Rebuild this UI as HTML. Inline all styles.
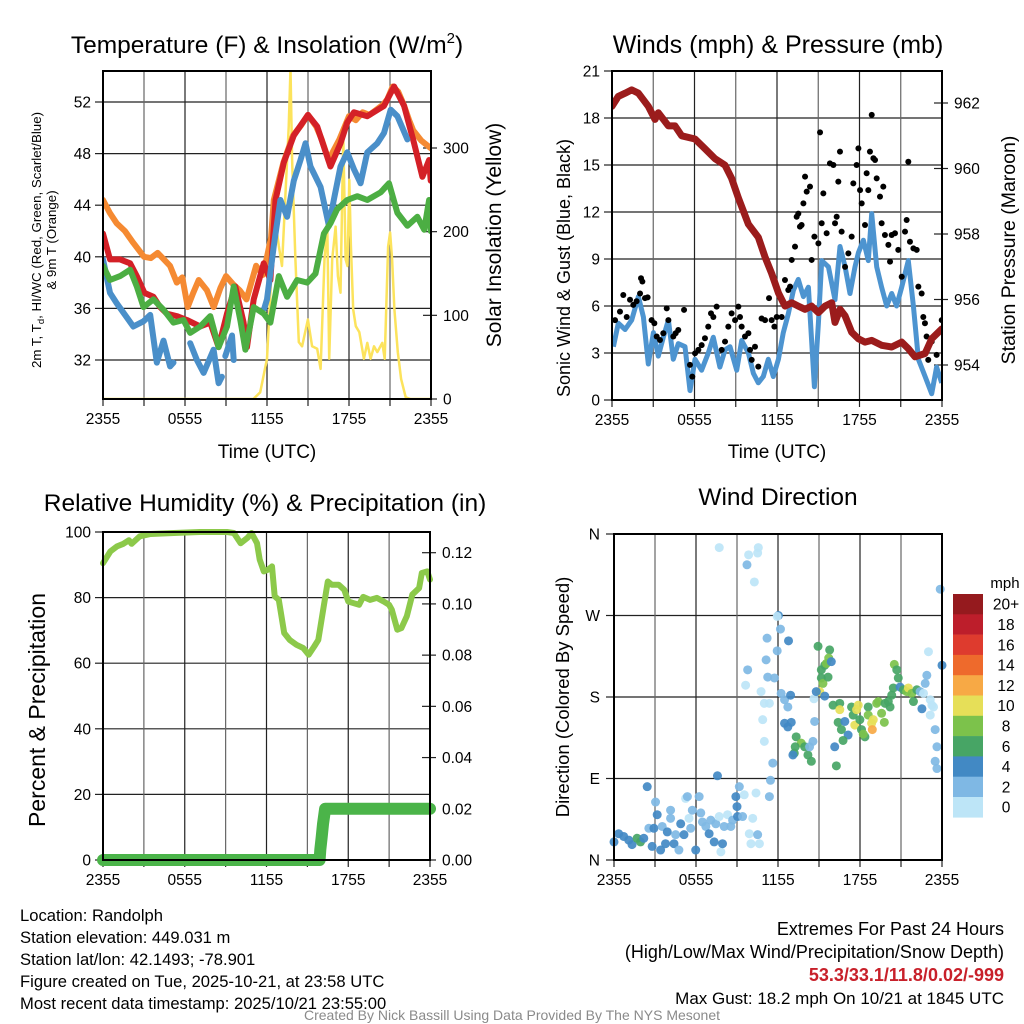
<!DOCTYPE html>
<html><head><meta charset="utf-8">
<style>
html,body{margin:0;padding:0;background:#fff;}
svg{display:block;font-family:"Liberation Sans",Arial,sans-serif;}
</style></head>
<body>
<svg id="chart" width="1024" height="1024" viewBox="0 0 1024 1024" xmlns="http://www.w3.org/2000/svg">
<rect width="1024" height="1024" fill="#fff"/>
<g id="g1"></g>
<g id="g2"></g>
<g id="g3"></g>
<g id="g4"></g>

<text x="267" y="53" font-size="24.5" text-anchor="middle">Temperature (F) &amp; Insolation (W/m<tspan font-size="15" dy="-10">2</tspan><tspan dy="10">)</tspan></text>
<text x="778" y="53" font-size="25" text-anchor="middle">Winds (mph) &amp; Pressure (mb)</text>
<text x="265" y="511" font-size="24.5" text-anchor="middle">Relative Humidity (%) &amp; Precipitation (in)</text>
<text x="778" y="505" font-size="24.5" text-anchor="middle">Wind Direction</text>

<text x="267" y="458" font-size="19" text-anchor="middle">Time (UTC)</text>
<text x="777" y="458" font-size="19" text-anchor="middle">Time (UTC)</text>

<g transform="translate(41,240) rotate(-90)">
<text x="0" y="0" font-size="13.3" text-anchor="middle">2m T, T<tspan font-size="9.5" dy="3">d</tspan><tspan dy="-3">, HI/WC (Red, Green, Scarlet/Blue)</tspan></text>
<text x="0" y="15" font-size="13.3" text-anchor="middle">&amp; 9m T (Orange)</text>
</g>
<text transform="translate(501,235) rotate(-90)" font-size="21" text-anchor="middle">Solar Insolation (Yellow)</text>
<text transform="translate(570,268) rotate(-90)" font-size="18" text-anchor="middle">Sonic Wind &amp; Gust (Blue, Black)</text>
<text transform="translate(1015,250) rotate(-90)" font-size="19.5" text-anchor="middle">Station Pressure (Maroon)</text>
<text transform="translate(45,710) rotate(-90)" font-size="23" text-anchor="middle">Percent &amp; Precipitation</text>
<text transform="translate(569,697) rotate(-90)" font-size="18.5" text-anchor="middle">Direction (Colored By Speed)</text>

<g font-size="16.6">
<text x="20" y="921">Location: Randolph</text>
<text x="20" y="943">Station elevation: 449.031 m</text>
<text x="20" y="965">Station lat/lon: 42.1493; -78.901</text>
<text x="20" y="987">Figure created on Tue, 2025-10-21, at 23:58 UTC</text>
<text x="20" y="1009">Most recent data timestamp: 2025/10/21 23:55:00</text>
</g>
<g text-anchor="end">
<text x="1004" y="935" font-size="18">Extremes For Past 24 Hours</text>
<text x="1004" y="958" font-size="18">(High/Low/Max Wind/Precipitation/Snow Depth)</text>
<text x="1004" y="981" font-size="18" fill="#c8202a" font-weight="bold">53.3/33.1/11.8/0.02/-999</text>
<text x="1004" y="1004" font-size="17">Max Gust: 18.2 mph On 10/21 at 1845 UTC</text>
</g>
<text x="512" y="1020" font-size="14" fill="#8a8a8a" text-anchor="middle">Created By Nick Bassill Using Data Provided By The NYS Mesonet</text>
</svg>

<script>
// ---------- DATA ----------
const xTickLabels = ["2355","0555","1155","1755","2355"];
const tempTicks = [32,36,40,44,48,52];
const solarTicks = [0,100,200,300];
const windTicks = [0,3,6,9,12,15,18,21];
const presTicks = [954,956,958,960,962];
const rhTicks = [0,20,40,60,80,100];
const precipTicks = [0,0.02,0.04,0.06,0.08,0.10,0.12];
const dirTickLabels = ["N","E","S","W","N"];
const speedBins = ["0","2","4","6","8","10","12","14","16","18","20+"];

const orangeHours = [0,0.5,1,1.6,2.2,3,3.5,4,4.9,5.4,5.8,6.2,6.6,7,7.6,8.1,8.6,9,9.5,10,10.5,11.2,11.7,12,12.3,12.5,13.2,13.9,14.5,15,15.6,16,16.5,16.9,17.3,18,18.5,19,19.5,20,20.5,20.8,21.2,21.6,22,22.4,22.7,23.3,24];
const orangeTemp = [44.4,43.4,42.6,42.0,41.1,40.0,39.9,40.3,39.3,38.0,38.4,36.1,37.2,38.2,37.4,36.1,37.6,38.5,37.9,37.4,36.7,39.3,38.6,40.0,41.5,44.4,47.3,49.4,50.2,51.0,50.1,49.1,47.5,48.3,49.1,50.9,50.6,51.2,51.0,51.4,51.8,52.2,53.2,52.8,51.8,50.6,49.8,49.0,48.4];
const redHours = [0,0.51,1.25,1.98,2.47,3.03,3.69,4.18,4.67,5.4,6.14,7.11,7.85,8.46,9.07,9.68,10.29,10.54,11.03,11.76,12.25,12.62,13.23,13.96,14.99,15.67,16.65,17.38,17.87,18.36,19.34,20.56,21.3,22.03,22.76,23.37,23.86,23.98];
const redTemp = [41.8,39.8,39.8,39.5,38.5,37.2,36.9,36.1,35.6,35.4,35.1,34.6,34.9,33.0,35.6,37.7,34.9,33.0,36.7,39.5,38.2,44.4,47.3,49.4,51.0,50.1,47.0,48.8,50.4,51.2,50.9,51.7,53.2,51.7,48.8,46.2,47.5,45.9];
const blueHours = [0,0.51,1.0,1.74,2.22,2.96,3.45,3.94,4.43,4.91,5.16,5.3,6.38,6.87,7.36,8.09,8.46,8.7,8.8,8.95,9.44,9.56,9.7,11.8,12.0,12.49,12.98,13.47,13.96,14.45,14.82,15.18,15.92,16.53,16.89,17.38,17.87,18.36,18.85,19.34,20.07,20.56,21.05,21.54,22.27];
const blueTemp = [39.8,37.2,36.4,35.3,34.6,35.0,35.5,31.8,33.5,31.5,31.8,null,33.3,32.0,31.0,32.8,30.2,30.7,null,32.3,33.9,32.0,null,36.0,36.7,40.8,44.4,43.1,45.9,47.5,48.8,47.0,45.4,42.4,44.4,47.0,48.1,46.8,45.7,48.1,48.8,49.6,51.4,50.9,49.1];
const greenHours = [0,0.51,1.25,1.98,2.47,2.96,3.69,4.43,5.16,5.89,6.38,7.11,7.85,8.46,9.07,9.56,10.05,10.42,11.03,11.76,12.25,12.86,13.47,14.2,14.94,15.55,16.16,16.65,17.14,17.87,18.61,19.34,20.32,20.93,21.54,22.27,23.0,23.5,23.86,23.98];
const greenTemp = [39.3,38.2,38.5,39.0,37.7,36.1,36.7,35.9,34.9,35.1,34.1,34.6,35.4,33.0,34.6,37.7,35.1,32.8,36.1,35.6,34.9,38.5,36.9,38.2,38.0,38.7,41.8,42.6,43.7,44.4,44.7,44.4,45.0,45.7,43.4,42.4,43.1,42.1,44.4,42.0];
const solarHours = [0,11.0,11.5,12.0,12.37,12.61,12.86,13.1,13.35,13.59,13.72,13.84,14.08,14.33,14.57,14.99,15.3,15.67,15.92,16.21,16.41,16.55,16.77,17.02,17.19,17.38,17.58,17.75,17.89,18.02,18.14,18.31,18.5,18.75,19.09,19.34,19.58,19.83,20.07,20.44,20.61,20.86,21.01,21.15,21.32,21.57,21.81,22.15,22.5,24];
const solarVals = [0,0,8,48,167,214,183,159,246,325,395,286,167,68,63,95,63,60,36,167,206,48,167,206,147,127,313,167,159,262,183,107,87,80,48,67,48,63,56,67,48,182,199,167,107,56,24,2,0,0];

const windHours = [0.1,0.46,0.95,1.43,1.92,2.28,2.64,3.01,3.37,3.73,4.1,4.46,4.82,5.31,5.67,6.04,6.52,7.0,7.37,7.85,8.22,8.58,9.07,9.43,9.92,10.28,10.64,11.0,11.37,11.73,12.1,12.46,12.82,13.19,13.55,13.92,14.28,14.72,15.01,15.25,15.74,16.22,16.58,16.95,17.31,17.67,17.92,18.28,18.64,18.89,19.25,19.61,19.98,20.34,20.7,21.07,21.55,21.92,22.28,22.77,23.25,23.61,23.98];
const windSpeed = [3.4,4.9,4.5,5.1,6.6,5.3,2.3,4.3,2.8,4.0,5.1,2.6,3.6,3.4,0.6,2.6,1.9,3.0,4.0,2.1,3.2,3.4,1.9,3.8,3.0,1.7,1.1,1.5,2.6,1.5,2.6,4.3,5.5,7.0,7.7,6.6,7.2,0.85,4.9,8.9,8.5,6.4,9.8,8.5,6.8,8.5,9.4,10.2,8.9,11.9,8.5,7.2,6.0,6.8,6.0,7.2,8.9,6.0,2.6,1.5,0.4,2.1,1.1];
const presHours = [0,0.46,0.95,1.43,1.92,2.64,3.13,3.37,4.1,4.58,5.07,6.04,6.76,7.49,8.22,8.7,9.19,9.92,10.64,11.13,11.61,12.1,12.58,13.07,13.55,14.04,14.52,15.01,15.49,15.98,16.22,16.58,16.95,17.43,17.92,18.4,18.89,19.61,20.34,21.07,21.55,22.04,22.77,23.25,23.98];
const presVals = [961.9,962.2,962.3,962.4,962.3,961.9,961.5,961.7,961.3,961.3,961.0,960.9,960.6,960.3,960.1,959.7,959.1,958.3,957.9,957.3,956.8,956.2,955.8,955.9,955.8,955.7,955.8,955.6,955.8,955.9,955.3,955.7,955.5,955.0,954.8,954.7,954.75,954.6,954.55,954.7,954.5,954.25,954.35,954.8,955.1];
const gustHours = [0.22,0.58,0.82,1.07,1.31,1.55,1.79,2.04,2.11,2.21,2.4,2.59,2.88,3.08,3.25,3.49,3.73,3.98,4.1,4.46,4.63,4.82,5.24,5.67,5.84,6.04,6.28,6.52,6.76,7.0,7.2,7.37,7.61,7.98,8.22,8.46,8.7,8.95,9.19,9.31,9.43,9.67,9.92,10.04,10.16,10.4,10.64,10.88,11.13,11.42,11.61,11.81,11.98,12.34,12.58,12.82,12.95,13.07,13.31,13.43,13.55,13.67,13.79,13.92,14.04,14.16,14.4,14.52,14.72,15.01,15.13,15.25,15.37,15.61,15.85,16.1,16.22,16.34,16.46,16.58,16.7,16.95,17.19,17.43,17.55,17.79,17.92,18.04,18.16,18.4,18.52,18.64,18.76,18.89,19.01,19.13,19.25,19.49,19.61,19.73,19.85,20.1,20.22,20.34,20.58,20.82,21.07,21.31,21.43,21.55,21.67,21.92,22.16,22.28,22.52,22.64,22.76,22.88,23.0,23.25,23.61,23.98];
const gustSpeed = [5.1,5.64,6.7,5.3,6.4,6.07,6.3,6.8,7.77,7.56,6.5,6.55,5.1,4.9,4.05,3.83,4.26,5.85,5.1,4.05,4.26,4.47,5.75,2.24,1.49,2.98,3.2,3.5,3.94,4.68,5.53,5.3,5.96,3.2,3.73,4.68,5.53,5.1,5.96,5.3,4.68,4.05,4.26,3.2,2.56,3.4,2.13,5.2,5.1,6.5,5.1,4.68,5.3,5.3,7.66,7.02,7.24,8.94,9.79,11.7,11.9,11.07,11.17,12.55,14.26,13.3,13.62,8.94,10.43,10.0,17.08,11.28,13.19,10.64,15.1,15.0,11.28,11.7,13.94,15.85,10.75,8.5,9.36,10.43,13.83,15.0,16.06,13.4,12.55,11.17,14.47,13.4,15.85,18.2,15.43,15.32,14.15,12.98,11.28,13.62,10.53,9.9,8.83,10.53,10.64,9.58,7.87,10.75,11.49,15.21,10.1,9.68,9.58,7.24,6.8,5.3,4.9,4.05,2.56,3.73,2.88,5.1];

const rhHours = [0,0.54,1.03,1.5,1.9,2.1,2.7,3.5,5.2,7.1,9.1,9.6,10.1,10.6,10.9,11.3,11.5,11.8,12.1,12.4,12.6,12.9,13.3,13.7,14.2,14.7,15.1,15.5,15.8,16.2,16.5,16.8,17.3,17.7,18.0,18.4,18.8,19.1,19.6,20.1,20.6,21.0,21.2,21.6,21.9,22.3,22.7,23.2,23.4,23.8,24.0];
const rhVals = [90.5,94.1,95.6,96.4,97.5,96.4,98.7,99.4,99.7,100,100,99.7,96.6,98.2,99.7,96.6,91.6,88.0,88.5,89.5,80.4,79.3,69.2,67.1,65.6,64.6,62.6,65.1,67.1,77.3,84.9,83.9,83.9,82.4,78.8,78.3,77.8,80.2,79.3,79.9,78.8,77.8,76.3,70.2,70.7,74.3,80.9,82.9,87.5,88.0,85.5];
const precipHours = [0,15.9,15.95,16.05,16.15,16.3,24];
const precipVals = [0,0,0.004,0.009,0.014,0.02,0.02];

const dirHours = [0,0.34,0.71,1.08,1.32,1.69,1.94,2.18,2.43,2.55,2.79,2.92,3.04,3.16,3.41,3.53,3.77,3.9,4.14,4.14,4.39,4.51,4.75,4.88,5.12,5.24,5.37,5.49,5.61,5.73,5.98,6.23,6.35,6.47,6.72,6.96,7.08,7.33,7.45,7.57,7.7,7.82,7.94,8.06,8.31,8.55,8.68,8.92,9.0,9.04,9.17,9.41,9.53,9.9,10.02,10.39,10.15,10.51,10.64,11.37,11.45,11.62,11.0,10.88,10.76,11.0,11.37,9.63,9.78,11.13,11.25,11.74,11.2,11.94,12.03,12.18,11.94,12.77,12.23,12.48,12.72,12.92,12.48,12.97,12.72,13.33,13.7,13.26,13.95,13.19,14.19,14.44,13.09,14.31,14.56,14.68,14.63,14.93,15.17,15.42,15.54,15.17,15.29,15.66,15.78,15.71,15.9,15.05,15.42,14.8,16.03,16.52,16.52,16.4,16.64,16.89,17.13,16.76,16.15,16.27,17.38,17.5,17.87,17.75,17.62,17.99,18.11,18.36,18.24,18.6,18.6,18.85,18.97,18.9,19.22,19.34,19.58,19.78,19.83,20.07,20.2,20.32,20.44,20.51,20.69,20.8,20.93,21.18,21.42,21.54,21.79,21.91,22.16,22.4,22.53,22.65,22.77,22.89,23.01,23.14,23.26,23.38,23.14,23.5,23.63,23.5,23.63,24,23.87,7.7,9.85,10.51,10.56,9.73,10.27];
const dirVals = [20,29,26,22,17,24,20,24,81,35,15,35,64,50,11,37,18,31,55,46,18,28,11,40,28,68,70,46,35,55,11,70,52,42,37,29,44,20,40,93,48,9,18,37,50,37,44,70,59,48,81,48,72,29,18,74,46,28,18,70,88,107,131,155,186,173,173,193,210,221,202,201,245,231,270,255,269,242,184,177,169,182,151,152,147,136,129,125,125,118,116,109,116,125,131,153,178,236,210,215,217,201,195,202,232,223,219,186,181,186,171,173,166,152,144,153,138,132,125,104,169,160,171,166,149,155,144,136,139,169,160,151,155,144,173,175,162,152,173,175,169,182,190,216,210,201,191,188,186,190,184,175,188,186,167,184,195,204,230,177,171,169,160,144,125,109,101,215,299,345,337,339,345,326,307];
const dirSpeed = [4.5,4.5,4.5,4.5,5,6.5,6.5,5,5,3,5,5,3.5,5,5,3,4.5,5,3,3.5,4.5,3,3,5,5,1.5,3,1.5,3,3,5,3,3,3,3,5,3,4.5,3,4,1.5,1.5,5,3,1.5,3,3,5,5,5,3.5,3,1.5,1.5,1.5,1.5,1.5,3,1.5,3,3,3,1.5,1.5,1.5,1.5,1.5,1.5,3,3,3,3,3,3,4,3,1.5,4.5,3,3,3,5,5,5,5,6.5,8,6.5,6.5,6.5,6.5,6.5,5,3,3,3,1.5,6.5,6.5,6.5,8.5,7.5,8.5,6.5,6.5,8,4,10.5,4,4,6.5,7.5,10.5,6.5,6.5,4,4,6.5,4,6.5,6.5,7.5,10.5,10.5,10.5,7.5,6.5,7.5,8,7.5,8,10.5,10.5,13,8.5,8,8,8,6.5,6.5,6.5,6.5,6.5,8,6.5,6.5,4,6.5,8,10,8,6.5,6.5,3,4,1.5,3,3,1.5,1.5,1.5,1.5,1.5,3,3,3,3,4,3,1.5,1.5,1.5,1.5,3,1.5];

// ---------- HELPERS ----------
const NS = "http://www.w3.org/2000/svg";
const TICK_FS = 15.5;
function mk(parent, tag, attrs){ const e=document.createElementNS(NS,tag); for(const k in attrs) e.setAttribute(k,attrs[k]); parent.appendChild(e); return e; }
function lin(d0,d1,r0,r1){ return v => r0 + (v-d0)/(d1-d0)*(r1-r0); }
function pathFrom(xs, ys, xf, yf){
  let d="", pen=false;
  for(let i=0;i<xs.length;i++){
    if(ys[i]===null){pen=false;continue;}
    d += (pen?"L":"M")+xf(xs[i]).toFixed(1)+","+yf(ys[i]).toFixed(1);
    pen=true;
  }
  return d;
}
const speedColors = ["#bde5f7","#7fb8e4","#4289c4","#47a565","#7cc24b","#e6df58","#f7a945","#ee6a2c","#de3b2e","#bd1e2b","#951a1e"];
function speedColor(s){ return speedColors[Math.min(10, Math.max(0, Math.floor(s/2)))]; }

function frame(g, L, T, R, B, xf, nameP){
  for(let h=0; h<=24; h+=3){
    const x=xf(h);
    const vl = mk(g,"line",{x1:x,y1:T,x2:x,y2:B,stroke:(h%6===0?"#222":"#666"),"stroke-width":1.2});
    
    
    mk(g,"line",{x1:x,y1:B,x2:x,y2:B+7,stroke:"#222","stroke-width":1.2});
  }
  xTickLabels.forEach((lab,i)=>{
    const t = mk(g,"text",{x:xf(i*6),y:B+25,"font-size":TICK_FS,"text-anchor":"middle"});
    t.textContent=lab;
    
    
  });
}
function hgrid(g, L, R, ys, nameP){
  ys.forEach(y=>{
    const l = mk(g,"line",{x1:L,y1:y,x2:R,y2:y,stroke:"#222","stroke-width":1.2});
    
    
  });
}
function leftTicks(g, L, vals, yf, fmt, nameP){
  vals.forEach(v=>{
    const y=yf(v);
    mk(g,"line",{x1:L-8,y1:y,x2:L,y2:y,stroke:"#222","stroke-width":1.2});
    const t=mk(g,"text",{x:L-12,y:y+5.5,"font-size":TICK_FS,"text-anchor":"end"});
    t.textContent=fmt(v);
    
    
  });
}
function rightTicks(g, R, vals, yf, fmt, nameP){
  vals.forEach(v=>{
    const y=yf(v);
    mk(g,"line",{x1:R-8,y1:y,x2:R+6,y2:y,stroke:"#222","stroke-width":1.2});
    const t=mk(g,"text",{x:R+12,y:y+5.5,"font-size":TICK_FS,"text-anchor":"start"});
    t.textContent=fmt(v);
    
    
  });
}
function border(g,L,T,R,B,nameP){
  const r=mk(g,"rect",{x:L,y:T,width:R-L,height:B-T,fill:"none",stroke:"#000","stroke-width":2});
  
  
}

// ---------- PANEL 1 ----------
(function(){
  const g=document.getElementById("g1");
  const L=103,R=431,T=71,B=399;
  const xf=lin(0,24,L,R), yT=lin(32,52,360,102), yS=lin(0,300,B,148);
  hgrid(g,L,R,tempTicks.map(yT),"temp");
  frame(g,L,T,R,B,xf,"temp");
  leftTicks(g,L,tempTicks,yT,v=>String(v),"temp");
  rightTicks(g,R,solarTicks,yS,v=>String(v),"solar");
  const clip=mk(g,"clipPath",{id:"c1"}); mk(clip,"rect",{x:L,y:T,width:R-L,height:B-T});
  const dg=mk(g,"g",{"clip-path":"url(#c1)"});
  const series=[["solar-line",solarHours,solarVals,yS,"#fce35c",2.5],
    ["orange-9m-temp-line",orangeHours,orangeTemp,yT,"#f58a32",6],
    ["red-2m-temp-line",redHours,redTemp,yT,"#d42027",6],
    ["blue-hi-wc-line",blueHours,blueTemp,yT,"#4a8fc9",6],
    ["green-dewpoint-line",greenHours,greenTemp,yT,"#4cae43",6]];
  series.forEach(s=>{
    const p=mk(dg,"path",{d:pathFrom(s[1],s[2],xf,s[3]),fill:"none",stroke:s[4],"stroke-width":s[5],"stroke-linejoin":"round","stroke-linecap":"round"});
    
    
  });
  border(g,L,T,R,B,"temp");
})();

// ---------- PANEL 2 ----------
(function(){
  const g=document.getElementById("g2");
  const L=612,R=942,T=71,B=400;
  const xf=lin(0,24,L,R), yW=lin(0,21,B,71), yP=lin(954,962,365,103);
  hgrid(g,L,R,windTicks.map(yW),"wind");
  frame(g,L,T,R,B,xf,"wind");
  leftTicks(g,L,windTicks,yW,v=>String(v),"wind");
  rightTicks(g,R,presTicks,yP,v=>String(v),"pressure");
  const clip=mk(g,"clipPath",{id:"c2"}); mk(clip,"rect",{x:L,y:T,width:R-L,height:B-T});
  const dg=mk(g,"g",{"clip-path":"url(#c2)"});
  const w=mk(dg,"path",{d:pathFrom(windHours,windSpeed,xf,yW),fill:"none",stroke:"#4d94d0","stroke-width":5,"stroke-linejoin":"round"});
  
  
  gustHours.forEach((h,i)=>{
    const c=mk(dg,"circle",{cx:xf(h),cy:yW(gustSpeed[i]),r:3,fill:"#000"});
    
    
  });
  const p=mk(dg,"path",{d:pathFrom(presHours,presVals,xf,yP),fill:"none",stroke:"#9b1c1c","stroke-width":7,"stroke-linejoin":"round","stroke-linecap":"round"});
  
  
  border(g,L,T,R,B,"wind");
})();

// ---------- PANEL 3 ----------
(function(){
  const g=document.getElementById("g3");
  const L=103,R=430,T=532,B=860;
  const xf=lin(0,24,L,R), yR=lin(0,100,B,T), yPr=lin(0,0.12,B,552.7);
  hgrid(g,L,R,rhTicks.map(yR),"rh");
  frame(g,L,T,R,B,xf,"rh");
  leftTicks(g,L,rhTicks,yR,v=>String(v),"rh");
  rightTicks(g,R,precipTicks,yPr,v=>v.toFixed(2),"precip");
  const r=mk(g,"path",{d:pathFrom(rhHours,rhVals,xf,yR),fill:"none",stroke:"#8cc94a","stroke-width":6,"stroke-linejoin":"round","stroke-linecap":"round"});
  
  
  const p=mk(g,"path",{d:pathFrom(precipHours,precipVals,xf,yPr),fill:"none",stroke:"#4bb449","stroke-width":12,"stroke-linejoin":"round","stroke-linecap":"round"});
  
  
  border(g,L,T,R,B,"rh");
})();

// ---------- PANEL 4 ----------
(function(){
  const g=document.getElementById("g4");
  const L=614,R=942,T=534,B=860;
  const xf=lin(0,24,L,R), yD=lin(0,360,B,T);
  hgrid(g,L,R,[0,90,180,270,360].map(yD),"dir");
  frame(g,L,T,R,B,xf,"dir");
  dirTickLabels.forEach((lab,i)=>{
    const y=yD(i*90);
    mk(g,"line",{x1:L-8,y1:y,x2:L,y2:y,stroke:"#222","stroke-width":1.2});
    const t=mk(g,"text",{x:L-14,y:y+5.5,"font-size":TICK_FS,"text-anchor":"end"});
    t.textContent=lab;
    
    
  });
  dirHours.forEach((h,i)=>{
    const c=mk(g,"circle",{cx:xf(h),cy:yD(dirVals[i]),r:4.5,fill:speedColor(dirSpeed[i]),"fill-opacity":0.92});
    
    
  });
  border(g,L,T,R,B,"dir");
  const cb=mk(g,"g",{});
  
  
  const h=20.3, top=594;
  const u=mk(cb,"text",{x:1005,y:588,"font-size":15,"text-anchor":"middle"});
  u.textContent="mph";
  
  
  speedBins.forEach((lab,i)=>{
    const idx=10-i;
    const y=top+i*h;
    const rct=mk(cb,"rect",{x:953,y:y,width:30,height:h+0.3,fill:speedColors[idx]});
    
    
    const t=mk(cb,"text",{x:1006,y:y+h/2+5.5,"font-size":15.5,"text-anchor":"middle"});
    t.textContent=speedBins[idx];
    
    
  });
})();
</script>
</body></html>
